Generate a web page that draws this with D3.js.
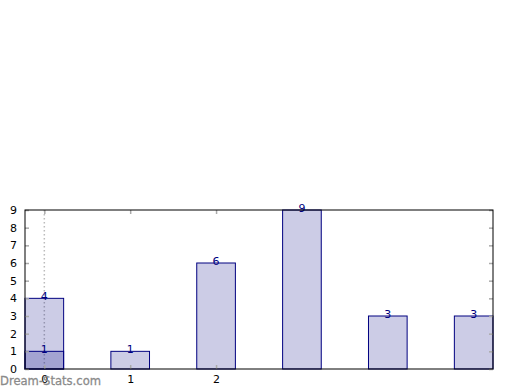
<!DOCTYPE html>
<html>
<head>
<meta charset="utf-8">
<script src="https://cdn.jsdelivr.net/npm/d3@7"></script>
<style>
  body { margin: 0; background: #fff; }
  svg { display: block; }
</style>
</head>
<body>
<svg id="chart" width="520" height="390"></svg>
<script>
// data
const categories = [0, 1, 2, 3, 4, 5];
const values = [4, 1, 6, 9, 3, 3];
const overlayCategories = [0];
const overlayValues = [1];
const xTickValues = [0, 1, 2];
const yTickValues = [0, 1, 2, 3, 4, 5, 6, 7, 8, 9];

const margin = { top: 210, right: 27, bottom: 21, left: 25 };
const width = 520;
const height = 390;
const chartWidth = width - margin.left - margin.right;
const chartHeight = height - margin.top - margin.bottom;
const fontFamily = "'DejaVu Sans', sans-serif";
const barWidth = 0.45;

const svg = d3.select("#chart");

const x = d3.scaleLinear()
    .domain([-barWidth / 2, 5 + barWidth / 2])
    .range([0, chartWidth]);

const y = d3.scaleLinear()
    .domain([0, 9])
    .range([chartHeight, 0]);

const chart = svg.append("g")
    .attr("transform", "translate(" + margin.left + "," + margin.top + ")");

// dotted guide at first category
chart.append("line")
    .attr("x1", x(0)).attr("x2", x(0))
    .attr("y1", 0).attr("y2", chartHeight)
    .style("stroke", "#bbbbbb")
    .style("stroke-width", 1.5)
    .style("stroke-dasharray", "1.5,2.5");

chart.selectAll("rect.main")
    .data(values)
    .enter().append("rect")
    .attr("class", "main")
    .attr("x", (d, i) => x(categories[i] - barWidth / 2))
    .attr("y", d => y(d))
    .attr("width", x(barWidth) - x(0))
    .attr("height", d => chartHeight - y(d))
    .style("fill", "#000080")
    .style("fill-opacity", 0.2)
    .style("stroke", "#000080")
    .style("stroke-width", 1);

chart.selectAll("rect.over")
    .data(overlayValues)
    .enter().append("rect")
    .attr("class", "over")
    .attr("x", (d, i) => x(overlayCategories[i] - barWidth / 2))
    .attr("y", d => y(d))
    .attr("width", x(barWidth) - x(0))
    .attr("height", d => chartHeight - y(d))
    .style("fill", "#000080")
    .style("fill-opacity", 0.2)
    .style("stroke", "#000080")
    .style("stroke-width", 1);

// value labels
chart.selectAll("text.val")
    .data(values)
    .enter().append("text")
    .attr("class", "val")
    .attr("x", (d, i) => x(categories[i]))
    .attr("y", d => y(d) + 2)
    .attr("text-anchor", "middle")
    .style("font-family", fontFamily)
    .style("font-size", "11px")
    .style("fill", "#000080")
    .text(d => d);

chart.selectAll("text.oval")
    .data(overlayValues)
    .enter().append("text")
    .attr("class", "oval")
    .attr("x", (d, i) => x(overlayCategories[i]))
    .attr("y", d => y(d) + 2)
    .attr("text-anchor", "middle")
    .style("font-family", fontFamily)
    .style("font-size", "11px")
    .style("fill", "#000080")
    .text(d => d);

// axes with inward grey ticks
const tickStyle = g => {
    g.select(".domain").remove();
    g.selectAll(".tick line").style("stroke", "#aaaaaa").style("stroke-width", 1.5);
    g.selectAll(".tick text")
        .style("font-family", fontFamily)
        .style("font-size", "11px")
        .style("fill", "#000");
};

chart.append("g")
    .attr("transform", "translate(0," + chartHeight + ")")
    .call(d3.axisBottom(x).tickValues(xTickValues).tickFormat(d3.format("d"))
        .tickSizeInner(-4).tickSizeOuter(0).tickPadding(6))
    .call(tickStyle);

chart.append("g")
    .call(d3.axisTop(x).tickValues(xTickValues).tickFormat("")
        .tickSizeInner(-4).tickSizeOuter(0))
    .call(tickStyle);

chart.append("g")
    .call(d3.axisLeft(y).tickValues(yTickValues).tickFormat(d3.format("d"))
        .tickSizeInner(-4).tickSizeOuter(0).tickPadding(8))
    .call(tickStyle);

chart.append("g")
    .attr("transform", "translate(" + chartWidth + ",0)")
    .call(d3.axisRight(y).tickValues(yTickValues).tickFormat("")
        .tickSizeInner(-4).tickSizeOuter(0))
    .call(tickStyle);

// frame
chart.append("rect")
    .attr("width", chartWidth)
    .attr("height", chartHeight)
    .style("fill", "none")
    .style("stroke", "#000")
    .style("stroke-width", 1);

svg.append("text")
    .attr("x", 0)
    .attr("y", 385)
    .attr("textLength", 101)
    .attr("lengthAdjust", "spacingAndGlyphs")
    .style("font-family", fontFamily)
    .style("font-size", "13px")
    .style("fill", "#8a8a8a")
    .style("stroke", "#8a8a8a")
    .style("stroke-width", 0.3)
    .text("Dream-Stats.com");
</script>
</body>
</html>
